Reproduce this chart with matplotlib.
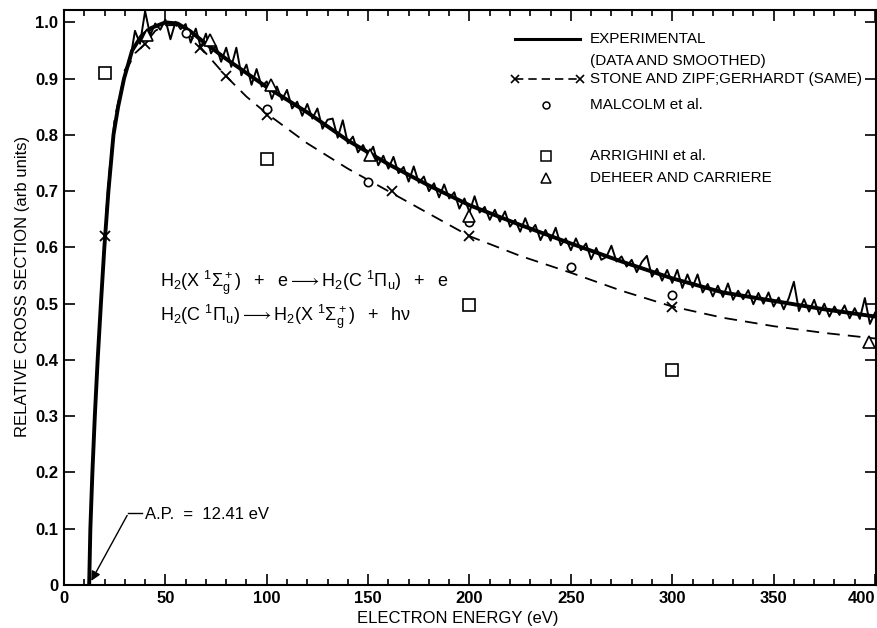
import numpy as np
import matplotlib
matplotlib.use('Agg')
import matplotlib.pyplot as plt
from matplotlib import font_manager
from matplotlib.ticker import MultipleLocator, FuncFormatter

names = {f.name for f in font_manager.fontManager.ttflist}
family = next(f for f in ['Liberation Sans Narrow', 'DejaVu Sans Condensed',
                          'Liberation Sans', 'DejaVu Sans'] if f in names)
plt.rcParams['font.family'] = [family, 'DejaVu Sans']
plt.rcParams['mathtext.fontset'] = 'custom'
plt.rcParams['mathtext.rm'] = family
plt.rcParams['mathtext.it'] = family
plt.rcParams['mathtext.fallback'] = 'stixsans'

x_ticks = [0, 50, 100, 150, 200, 250, 300, 350, 400]
x_tick_labels = ['0', '50', '100', '150', '200', '250', '300', '350', '400']

# smoothed experimental curve
smooth_x = [12.41, 13.0, 14.0, 15.2, 16.6, 18.2, 19.9, 21.9, 24.4, 26.7, 29.6, 33.6,
            38, 43, 50, 56, 62, 70, 80, 90, 100, 120, 140, 160, 180, 200, 225, 250,
            275, 300, 325, 350, 375, 400.5]
smooth_y = [0, 0.1, 0.2, 0.3, 0.4, 0.5, 0.6, 0.7, 0.8, 0.85, 0.9, 0.95,
            0.975, 0.99, 1.0, 0.998, 0.985, 0.962, 0.935, 0.91, 0.885, 0.84, 0.79,
            0.748, 0.71, 0.675, 0.64, 0.607, 0.575, 0.545, 0.52, 0.505, 0.49, 0.477]

# raw experimental data, sampled every 2.5 eV from 30 eV
noisy_start, noisy_step = 30.0, 2.5
noisy_y = [0.915, 0.93, 0.985, 0.962, 1.02, 0.977, 0.998, 0.987, 1.005, 0.97,
           1.001, 0.988, 0.997, 0.964, 0.989, 0.955, 0.98, 0.945, 0.958, 0.93,
           0.955, 0.921, 0.955, 0.906, 0.925, 0.889, 0.917, 0.886, 0.895, 0.864,
           0.886, 0.862, 0.88, 0.847, 0.859, 0.834, 0.855, 0.829, 0.847, 0.811,
           0.827, 0.829, 0.795, 0.826, 0.785, 0.797, 0.769, 0.782, 0.763, 0.779,
           0.746, 0.763, 0.74, 0.761, 0.732, 0.743, 0.717, 0.744, 0.715, 0.726,
           0.70, 0.714, 0.689, 0.712, 0.687, 0.698, 0.669, 0.687, 0.663, 0.691,
           0.662, 0.672, 0.649, 0.667, 0.646, 0.664, 0.637, 0.649, 0.628, 0.652,
           0.628, 0.64, 0.613, 0.631, 0.612, 0.635, 0.604, 0.616, 0.595, 0.616,
           0.595, 0.607, 0.579, 0.599, 0.578, 0.583, 0.603, 0.575, 0.584, 0.566,
           0.578, 0.556, 0.574, 0.585, 0.548, 0.562, 0.541, 0.56, 0.537, 0.56,
           0.528, 0.552, 0.529, 0.552, 0.52, 0.535, 0.513, 0.532, 0.512, 0.536,
           0.507, 0.523, 0.508, 0.524, 0.499, 0.519, 0.50, 0.52, 0.495, 0.511,
           0.49, 0.51, 0.539, 0.487, 0.508, 0.486, 0.507, 0.481, 0.50, 0.477,
           0.495, 0.48, 0.497, 0.474, 0.492, 0.473, 0.51, 0.464, 0.484]
noisy_x = noisy_start + noisy_step * np.arange(len(noisy_y))

# Stone and Zipf; Gerhardt
stone_line_x = [20, 22, 25, 30, 35, 40, 45, 50, 55, 60, 65, 70, 80, 90, 100, 120,
                140, 160, 180, 200, 225, 250, 275, 300, 325, 350, 375, 400.5]
stone_line_y = [0.62, 0.72, 0.83, 0.91, 0.945, 0.962, 0.985, 0.995, 0.995, 0.985,
                0.965, 0.945, 0.904, 0.868, 0.838, 0.785, 0.74, 0.70, 0.66, 0.62,
                0.585, 0.555, 0.523, 0.495, 0.475, 0.46, 0.448, 0.438]
stone_x = [20, 40, 67, 80, 100, 162, 200, 300]
stone_y = [0.62, 0.961, 0.954, 0.904, 0.836, 0.70, 0.62, 0.495]

malcolm_x = [60, 100, 150, 200, 250, 300]
malcolm_y = [0.982, 0.846, 0.716, 0.645, 0.565, 0.515]

arrighini_x = [20, 100, 200, 300]
arrighini_y = [0.91, 0.757, 0.497, 0.383]

deheer_x = [41, 72, 102, 151, 200, 397]
deheer_y = [0.978, 0.968, 0.889, 0.764, 0.655, 0.432]

fig = plt.figure(figsize=(8.77, 6.28), dpi=100)
ax = fig.add_axes([64 / 877, 43 / 628, 812 / 877, 575 / 628])

ax.plot(noisy_x, noisy_y, color='black', lw=1.4)
ax.plot(smooth_x, smooth_y, color='black', lw=2.8, solid_joinstyle='round')
ax.plot(stone_line_x, stone_line_y, color='black', lw=1.3, ls=(0, (7, 4.5)))
ax.plot(stone_x, stone_y, ls='none', marker='x', color='black', ms=7, mew=1.3)
ax.plot(malcolm_x, malcolm_y, ls='none', marker='o', mfc='white', mec='black', ms=6, mew=1.2)
ax.plot(arrighini_x, arrighini_y, ls='none', marker='s', mfc='white', mec='black', ms=8, mew=1.2)
ax.plot(deheer_x, deheer_y, ls='none', marker='^', mfc='white', mec='black', ms=8, mew=1.2,
        clip_on=False)

ax.set_xlim(0, 400.5)
ax.set_ylim(0, 1.022)
ax.set_xticks(x_ticks)
ax.set_xticklabels(x_tick_labels)
ax.xaxis.set_minor_locator(MultipleLocator(10))
ax.yaxis.set_major_locator(MultipleLocator(0.1))
ax.yaxis.set_major_formatter(FuncFormatter(lambda v, p: '0' if abs(v) < 1e-9 else f'{v:.1f}'))
ax.tick_params(which='both', direction='in', top=True, right=True, width=1.2)
ax.tick_params(which='major', length=8, pad=4, labelsize=12)
ax.tick_params(which='minor', length=4)
for lab in ax.get_xticklabels() + ax.get_yticklabels():
    lab.set_fontweight('bold')
ax.get_xticklabels()[-1].set_horizontalalignment('right')
for s in ax.spines.values():
    s.set_linewidth(1.5)

ax.set_xlabel('ELECTRON ENERGY (eV)', fontsize=12)
ax.xaxis.set_label_coords(0.485, -0.045)
ax.set_ylabel('RELATIVE CROSS SECTION (arb units)', fontsize=12)
ax.yaxis.set_label_coords(-0.042, 0.52)

# reaction equations
ax.text(0.118, 0.525, r'$\mathrm{H_2(X\ {}^1\Sigma_g^+)\ \ +\ \ e \longrightarrow H_2(C\ {}^1\Pi_u)\ \ +\ \ e}$',
        transform=ax.transAxes, fontsize=13, va='center', ha='left')
ax.text(0.118, 0.467, r'$\mathrm{H_2(C\ {}^1\Pi_u) \longrightarrow H_2(X\ {}^1\Sigma_g^+)\ \ +\ \ h\nu}$',
        transform=ax.transAxes, fontsize=13, va='center', ha='left')

# appearance potential
ax.plot([31.8, 38.5], [0.128, 0.128], color='black', lw=1.0)
ax.annotate('', xy=(12.8, 0.003), xytext=(31.8, 0.128),
            arrowprops=dict(arrowstyle='-|>', color='black', lw=1.0, mutation_scale=14))
ax.text(40, 0.125, 'A.P.  =  12.41 eV', fontsize=12, va='center', ha='left')

# legend
tr = ax.transAxes
lx0, lx1, lxm, ltx = 0.555, 0.635, 0.594, 0.648
rows = [0.971, 0.932, 0.899, 0.853, 0.762, 0.723]
rows = [r / 1.022 for r in rows]
fs = 11
ax.plot([lx0, lx1], [rows[0]] * 2, transform=tr, color='black', lw=2.2)
ax.text(ltx, rows[0], 'EXPERIMENTAL', transform=tr, fontsize=fs, va='center')
ax.text(ltx, rows[1], '(DATA AND SMOOTHED)', transform=tr, fontsize=fs, va='center')
ax.plot([lx0, lx1], [rows[2]] * 2, transform=tr, color='black', lw=1.2,
        ls=(0, (5, 3)), marker='x', ms=6, mew=1.2)
ax.text(ltx, rows[2], 'STONE AND ZIPF;GERHARDT (SAME)', transform=tr, fontsize=fs, va='center')
ax.plot([lxm], [rows[3]], transform=tr, marker='o', mfc='white', mec='black', ms=5, mew=1.1)
ax.text(ltx, rows[3], 'MALCOLM et al.', transform=tr, fontsize=fs, va='center')
ax.plot([lxm], [rows[4]], transform=tr, marker='s', mfc='white', mec='black', ms=6.5, mew=1.1)
ax.text(ltx, rows[4], 'ARRIGHINI et al.', transform=tr, fontsize=fs, va='center')
ax.plot([lxm], [rows[5]], transform=tr, marker='^', mfc='white', mec='black', ms=6.5, mew=1.1)
ax.text(ltx, rows[5], 'DEHEER AND CARRIERE', transform=tr, fontsize=fs, va='center')

fig.savefig('out.png', dpi=100)
